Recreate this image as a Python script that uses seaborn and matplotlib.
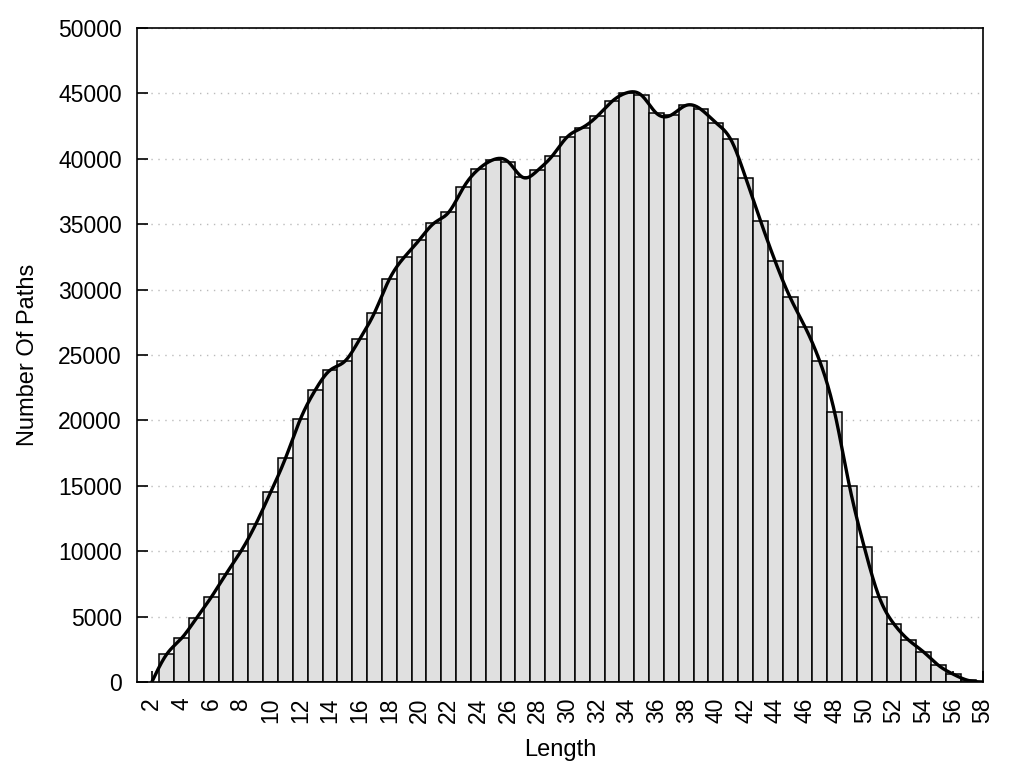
import numpy as np
import pandas as pd
import matplotlib
matplotlib.use("Agg")
import matplotlib.pyplot as plt
import seaborn as sns

lengths = list(range(3, 58))
paths = [2120, 3340, 4870, 6480, 8260, 9990, 12060, 14500, 17100, 20080,
         22300, 23830, 24520, 26200, 28230, 30790, 32470, 33770, 35070, 35910,
         37820, 39200, 39930, 39780, 38580, 39120, 40250, 41690, 42380, 43250,
         44390, 45050, 44850, 43480, 43350, 44090, 43780, 42760, 41490, 38570,
         35270, 32150, 29410, 27160, 24520, 20620, 14980, 10300, 6500, 4430,
         3190, 2290, 1270, 590, 120]
curve_start = 2
curve_end = 58
x_ticks = list(range(2, 59, 2))
y_ticks = list(range(0, 50001, 5000))

sns.set_theme(style="white")
plt.rcParams['font.family'] = ['Liberation Sans', 'DejaVu Sans']
plt.rcParams.update({"text.color": "black", "axes.labelcolor": "black",
                     "xtick.color": "black", "ytick.color": "black"})


def natural_spline(x, y, xs):
    x = np.asarray(x, float)
    y = np.asarray(y, float)
    n = len(x)
    h = np.diff(x)
    A = np.zeros((n, n))
    b = np.zeros(n)
    A[0, 0] = 1
    A[-1, -1] = 1
    for i in range(1, n - 1):
        A[i, i - 1] = h[i - 1]
        A[i, i] = 2 * (h[i - 1] + h[i])
        A[i, i + 1] = h[i]
        b[i] = 6 * ((y[i + 1] - y[i]) / h[i] - (y[i] - y[i - 1]) / h[i - 1])
    M = np.linalg.solve(A, b)
    idx = np.clip(np.searchsorted(x, xs) - 1, 0, n - 2)
    x0, x1 = x[idx], x[idx + 1]
    hh = x1 - x0
    t0 = x1 - xs
    t1 = xs - x0
    return (M[idx] * t0 ** 3 / (6 * hh) + M[idx + 1] * t1 ** 3 / (6 * hh)
            + (y[idx] / hh - M[idx] * hh / 6) * t0
            + (y[idx + 1] / hh - M[idx + 1] * hh / 6) * t1)


df = pd.DataFrame({"Length": lengths, "Paths": paths})
kx = [curve_start] + lengths + [curve_end]
ky = [0] + paths + [0]
xs = np.linspace(curve_start, curve_end, 1200)
ys = natural_spline(kx, ky, xs)
curve = pd.DataFrame({"x": xs, "y": ys})

fig = plt.figure(figsize=(10.24, 7.68), dpi=100)
ax = fig.add_axes([0.1338, 0.112, 0.8262, 0.8515])

sns.barplot(data=df, x="Length", y="Paths", native_scale=True, width=1.0,
            color="#e0e0e0", saturation=1, edgecolor="black", linewidth=1.1,
            ax=ax, zorder=2)
sns.lineplot(data=curve, x="x", y="y", color="black", linewidth=2.4, ax=ax,
             zorder=3)

ax.set_xlim(1, 58)
ax.set_ylim(0, 50000)
ax.set_xticks(x_ticks)
ax.set_xticklabels([str(t) for t in x_ticks], rotation=90, fontsize=16.5,
                   color="black")
ax.set_yticks(y_ticks)
ax.set_yticklabels([str(t) for t in y_ticks], fontsize=16.5, color="black")
ax.tick_params(axis="both", direction="in", length=8, width=1.2, color="black",
               labelcolor="black", left=True, bottom=True, right=False,
               top=False, pad=11)
ax.set_axisbelow(True)
ax.yaxis.grid(True, linestyle=(0, (1, 4)), color="#bbbbbb", linewidth=1)
ax.xaxis.grid(False)
for s in ax.spines.values():
    s.set_visible(True)
    s.set_color("black")
    s.set_linewidth(1.2)
ax.set_xlabel("Length", fontsize=17, labelpad=12, color="black")
ax.set_ylabel("Number Of Paths", fontsize=17, labelpad=14, color="black")

fig.savefig("out.png", dpi=100)
